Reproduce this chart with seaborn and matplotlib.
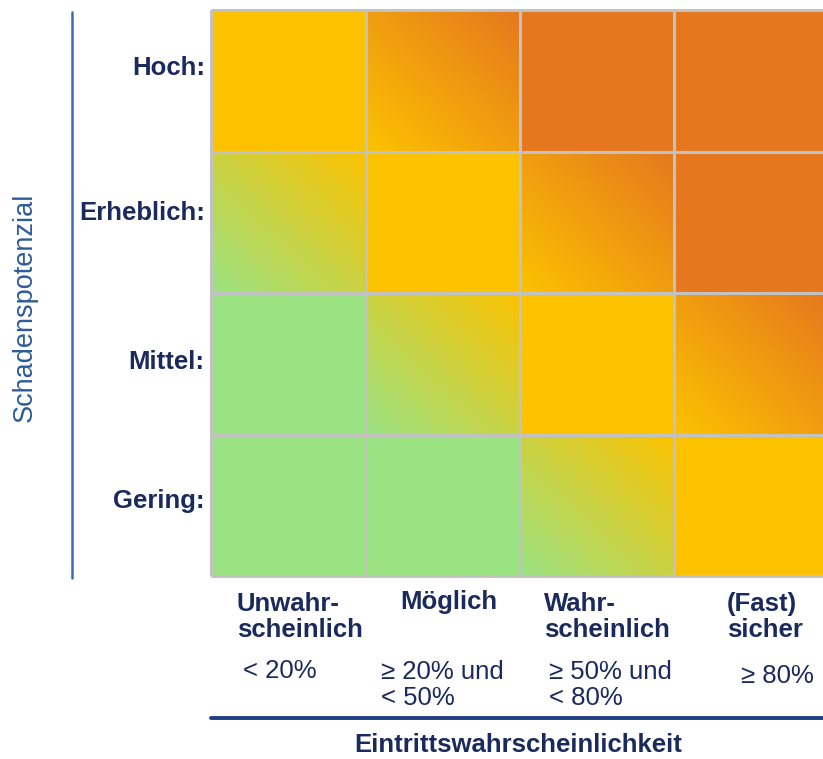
import numpy as np
import pandas as pd
import seaborn as sns
import matplotlib
matplotlib.use("Agg")
import matplotlib.pyplot as plt
from matplotlib.colors import LinearSegmentedColormap
from matplotlib.transforms import ScaledTranslation, blended_transform_factory

# ---------------- data ----------------
rows = ["Hoch:", "Erheblich:", "Mittel:", "Gering:"]
cols = ["Unwahrscheinlich", "Möglich", "Wahrscheinlich", "(Fast) sicher"]
col_names = ["Unwahr-\nscheinlich", "Möglich", "Wahr-\nscheinlich", "(Fast)\nsicher"]
col_ranges = ["< 20%", "≥ 20% und\n< 50%", "≥ 50% und\n< 80%", "≥ 80%"]
# risk level: 0 = green, 1 = yellow, 2 = orange, .5 = gradient cell between levels
risk_hoch = [1.0, 1.5, 2.0, 2.0]
risk_erheblich = [0.5, 1.0, 1.5, 2.0]
risk_mittel = [0.0, 0.5, 1.0, 1.5]
risk_gering = [0.0, 0.0, 0.5, 1.0]
x_title = "Eintrittswahrscheinlichkeit"
y_title = "Schadenspotenzial"

df = pd.DataFrame([risk_hoch, risk_erheblich, risk_mittel, risk_gering],
                  index=rows, columns=cols)

# ---------------- style ----------------
sns.set_theme(style="white")
plt.rcParams["font.family"] = ["Liberation Sans", "DejaVu Sans"]

W, H = 823, 759
fig = plt.figure(figsize=(W / 100, H / 100), dpi=100)
fig.patch.set_facecolor("white")

left_px, right_px, top_px, bottom_px = 211, 829, 10, 576
ax = fig.add_axes([left_px / W, 1 - bottom_px / H,
                   (right_px - left_px) / W, (bottom_px - top_px) / H])

GREEN, YELLOW, ORANGE = "#9BE283", "#FCC200", "#E5781E"
cmap = LinearSegmentedColormap.from_list("risk", [GREEN, YELLOW, ORANGE])
NAVY = "#1B2A5C"
FS = 18.5

sns.heatmap(df, ax=ax, cmap=cmap, vmin=0, vmax=2, cbar=False,
            xticklabels=False, yticklabels=rows, linewidths=0)

# gradient cells (bottom-left low -> top-right high)
n = 120
r, c = np.mgrid[0:n, 0:n]
t = (c + (n - 1 - r)) / (2 * (n - 1))
for i, rname in enumerate(rows):
    for j, cname in enumerate(cols):
        lvl = df.loc[rname, cname]
        if abs(lvl - round(lvl)) > 0.1:
            Z = lvl - 0.5 + t
            ax.imshow(Z, cmap=cmap, vmin=0, vmax=2, origin="upper",
                      extent=(j, j + 1, i + 1, i), aspect="auto",
                      interpolation="bilinear", zorder=1)
ax.set_xlim(0, 4)
ax.set_ylim(4, 0)

# grid lines
ax.hlines(range(5), 0, 4, colors="#C2C2C2", lw=2.2, zorder=3, clip_on=False)
ax.vlines(range(5), 0, 4, colors="#C2C2C2", lw=2.2, zorder=3, clip_on=False)

# row labels
ax.set_yticklabels(rows, rotation=0, fontsize=FS, fontweight="bold", color=NAVY)
ax.tick_params(axis="y", length=0, pad=4.5)
label_lift_px = [13, 9, 2, 4]
for lab, lift in zip(ax.get_yticklabels(), label_lift_px):
    lab.set_transform(lab.get_transform() + ScaledTranslation(0, lift / 100, fig.dpi_scale_trans))
ax.set_ylabel("")
ax.set_xlabel("")

# column labels
trans = blended_transform_factory(ax.transData, fig.transFigure)
name_x = [0.168, 1.223, 2.155, 3.34]
name_top = [592, 590, 592, 592]
range_x = [0.207, 1.10, 2.188, 3.43]
range_top = [659, 660, 660, 664]
for k in range(4):
    ax.text(name_x[k], 1 - name_top[k] / H, col_names[k], transform=trans,
            ha="left", va="top", fontsize=FS, fontweight="bold", color=NAVY,
            linespacing=1.08, clip_on=False)
    ax.text(range_x[k], 1 - range_top[k] / H, col_ranges[k], transform=trans,
            ha="left", va="top", fontsize=FS, color=NAVY,
            linespacing=1.08, clip_on=False)

# axis rules and titles
fig.add_artist(plt.Line2D([211 / W, 1.0], [1 - 718 / H] * 2, color="#1F3F80", lw=2.8))
fig.add_artist(plt.Line2D([72 / W] * 2, [1 - 12 / H, 1 - 578 / H], color="#3A6DB0", lw=1.8))
fig.text(518 / W, 1 - 745 / H, x_title, ha="center", va="center",
         fontsize=FS, fontweight="bold", color=NAVY)
fig.text(25 / W, 1 - 307 / H, y_title, ha="center", va="center",
         rotation=90, fontsize=19.5, color="#2D5B9A")

fig.savefig("out.png", dpi=100, facecolor="white")
